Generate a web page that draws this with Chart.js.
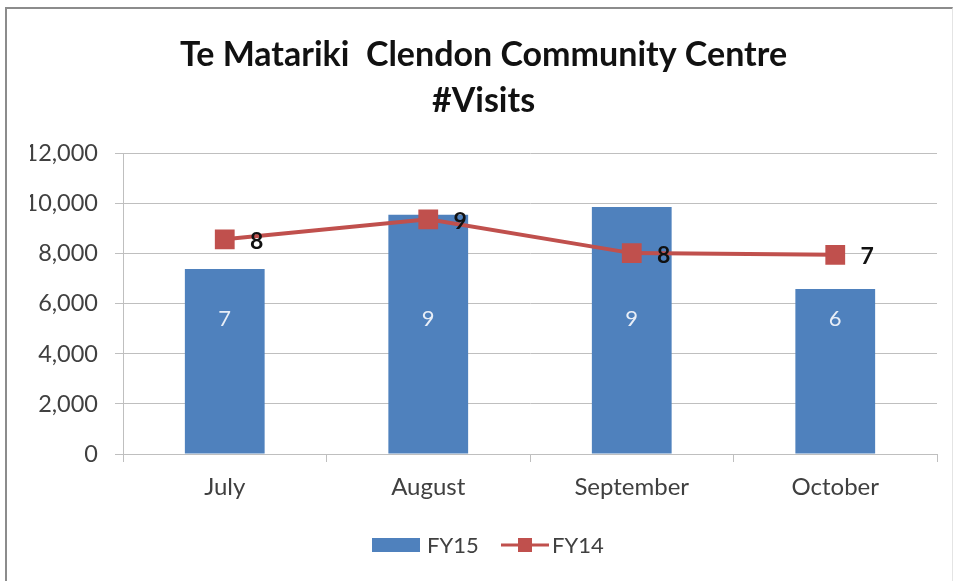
<!DOCTYPE html>
<html>
<head>
<meta charset="utf-8">
<script src="https://cdn.jsdelivr.net/npm/chart.js@4.4.1/dist/chart.umd.min.js"></script>
<style>
  html, body { margin: 0; padding: 0; background: #fff; }
  #wrap { position: relative; width: 955px; height: 581px; }
  #frame { position: absolute; left: 5px; top: 7px; width: 945px; height: 580px;
           border-left: 2px solid #8c8c8c; border-top: 2px solid #8c8c8c; border-right: 1px solid #e4e4e4; }
  canvas { position: absolute; left: 0; top: 0; }
</style>
</head>
<body>
<div id="wrap">
  <div id="frame"></div>
  <canvas id="c" width="955" height="581"></canvas>
</div>
<script>
var months = ['July', 'August', 'September', 'October'];
var fy15 = [7400, 9560, 9870, 6600];
var fy14 = [8580, 9380, 8030, 7960];
var fy15Labels = ['7', '9', '9', '6'];
var fy14Labels = ['8', '9', '8', '7'];
var yTicks = [0, 2000, 4000, 6000, 8000, 10000, 12000];

var BLUE = '#4F81BD', RED = '#C0504D', TXT = '#404040', GRID = '#BFBFBF';
var FONT = 'Lato, "Open Sans", sans-serif';

/* value labels + legend, drawn after the datasets */
var extras = {
  id: 'extras',
  afterDatasetsDraw: function(chart) {
    var ctx = chart.ctx, y = chart.scales.y;
    var bars = chart.getDatasetMeta(0).data;
    var pts = chart.getDatasetMeta(1).data;
    ctx.save();
    ctx.textAlign = 'center';
    ctx.textBaseline = 'middle';
    ctx.font = '22px ' + FONT;
    ctx.fillStyle = '#E8EEF7';
    bars.forEach(function(b, i) { ctx.fillText(fy15Labels[i], b.x, y.getPixelForValue(5400)); });
    ctx.font = 'bold 23px ' + FONT;
    ctx.fillStyle = '#111';
    pts.forEach(function(p, i) { ctx.fillText(fy14Labels[i], p.x + 32, p.y + 2); });

    // legend
    var ly = 545;
    ctx.fillStyle = BLUE;
    ctx.fillRect(372, ly - 7, 48, 14);
    ctx.font = '22px ' + FONT;
    ctx.fillStyle = TXT;
    ctx.textAlign = 'left';
    ctx.fillText(chart.data.datasets[0].label, 427, ly + 1);
    ctx.strokeStyle = RED;
    ctx.lineWidth = 3;
    ctx.beginPath(); ctx.moveTo(501, ly); ctx.lineTo(549, ly); ctx.stroke();
    ctx.fillStyle = RED;
    ctx.fillRect(518, ly - 7, 14, 14);
    ctx.fillStyle = TXT;
    ctx.fillText(chart.data.datasets[1].label, 552, ly + 1);
    ctx.restore();
  }
};

new Chart(document.getElementById('c'), {
  type: 'bar',
  data: {
    labels: months,
    datasets: [
      {label: 'FY15', data: fy15, backgroundColor: BLUE, borderWidth: 0,
       categoryPercentage: 0.8, barPercentage: 0.49, order: 2},
      {label: 'FY14', type: 'line', data: fy14, borderColor: RED, backgroundColor: RED,
       borderWidth: 4, tension: 0, pointStyle: 'rect', pointRadius: 14, pointHoverRadius: 14,
       pointBorderWidth: 0, fill: false, order: 1}
    ]
  },
  options: {
    responsive: false, animation: false,
    layout: {padding: {left: 30, right: 18, top: 0, bottom: 0}},
    plugins: {
      legend: {display: false},
      tooltip: {enabled: false},
      title: {
        display: true,
        text: ['Te Matariki  Clendon Community Centre', '#Visits'],
        color: '#111',
        font: {family: FONT, size: 34, weight: 'bold', lineHeight: 1.35},
        padding: {top: 32, bottom: 30}
      }
    },
    scales: {
      x: {
        grid: {offset: true, drawOnChartArea: false, drawTicks: true, tickLength: 8, color: GRID},
        border: {color: GRID},
        ticks: {color: TXT, font: {family: FONT, size: 24}, padding: 11},
        afterFit: function(s) { s.height = 127; }
      },
      y: {
        min: 0, max: 12000,
        afterBuildTicks: function(s) { s.ticks = yTicks.map(function(v) { return {value: v}; }); },
        grid: {color: GRID, tickLength: 8},
        border: {color: GRID},
        ticks: {color: TXT, font: {family: FONT, size: 23.5}, padding: 17,
                callback: function(v) { return v.toLocaleString('en-US'); }},
        afterFit: function(s) { s.width = 93; }
      }
    }
  },
  plugins: [extras]
});
</script>
</body>
</html>
